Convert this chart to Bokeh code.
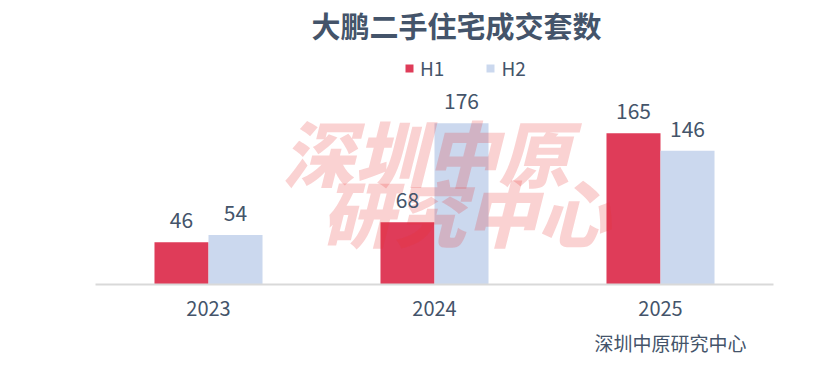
from bokeh.plotting import figure
from bokeh.models import Range1d, ColumnDataSource, Label, LabelSet, Legend, LegendItem, Title
from bokeh.transform import dodge
from bokeh.core.properties import value
from bokeh.embed import file_html
from bokeh.resources import INLINE

years = ["2023", "2024", "2025"]
h1 = [46, 68, 165]
h2 = [54, 176, 146]
series_names = ["H1", "H2"]
title_text = "大鹏二手住宅成交套数"
source_text = "深圳中原研究中心"
watermark_rows = ["深圳中原", "研究中心"]

FONT = "Noto Sans CJK SC"
TXT = "#44546A"
RED = "#DF3C59"
BLUE = "#CBD8EE"

src = ColumnDataSource(dict(year=years, h1=h1, h2=h2,
                            h1_txt=[str(v) for v in h1], h2_txt=[str(v) for v in h2]))

p = figure(x_range=years, y_range=Range1d(0, 310), width=822, height=365,
           output_backend="svg", toolbar_location=None, title=None,
           min_border_left=95, min_border_right=49, min_border_top=0, min_border_bottom=81)
p.outline_line_color = None
p.xgrid.visible = False
p.ygrid.visible = False
p.yaxis.visible = False
p.background_fill_color = "white"
p.border_fill_color = "white"

ax = p.xaxis[0]
ax.axis_line_color = "#D9D9D9"
ax.axis_line_width = 2
ax.major_tick_line_color = None
ax.minor_tick_line_color = None
ax.major_label_text_font = FONT
ax.major_label_text_font_size = "20px"
ax.major_label_text_color = TXT
ax.major_label_standoff = 10

bw = 0.239
r1 = p.vbar(x=dodge("year", -0.1195, range=p.x_range), top="h1", width=bw, source=src,
            fill_color=RED, line_color=None)
r2 = p.vbar(x=dodge("year", 0.1195, range=p.x_range), top="h2", width=bw, source=src,
            fill_color=BLUE, line_color=None)

# watermark
wm_pos = [(331, 134), (370, 74)]
for txt, (wx, wy) in zip(watermark_rows, wm_pos):
    p.add_layout(Label(x=wx, y=wy, x_units="screen", y_units="screen", text=txt,
                       text_font="'Noto Sans CJK SC Black', 'Noto Sans CJK SC'",
                       text_font_size="72px", text_font_style="bold italic",
                       text_color="#E83030", text_alpha=0.22,
                       text_align="center", text_baseline="middle"))

# data labels
for col, off in (("h1", -0.1195), ("h2", 0.1195)):
    p.add_layout(LabelSet(x=dodge("year", off, range=p.x_range), y=col, text=col + "_txt",
                          source=src, y_offset=14, text_align="center",
                          text_baseline="alphabetic", text_font=value(FONT),
                          text_font_size="21px", text_color=TXT))

# title
p.add_layout(Label(x=361, y=260, x_units="screen", y_units="screen", text=title_text,
                   text_font=FONT, text_font_size="29px", text_font_style="bold",
                   text_color=TXT, text_align="center", text_baseline="middle"))

# spacer + source
p.add_layout(Title(text=" ", text_font_size="6px", standoff=0), "below")
p.add_layout(Title(text=source_text, align="left", offset=499, text_font=FONT,
                   text_font_size="19px", text_font_style="normal", text_color=TXT,
                   standoff=0), "below")

legend = Legend(items=[LegendItem(label=series_names[0], renderers=[r1]),
                       LegendItem(label=series_names[1], renderers=[r2])],
                orientation="horizontal", location=(309, 203),
                glyph_width=10, glyph_height=10, label_height=20, label_standoff=6,
                spacing=41, padding=0, margin=0, border_line_color=None,
                background_fill_alpha=0, label_text_font=FONT,
                label_text_font_size="19px", label_text_color=TXT)
p.add_layout(legend, "center")

open("out.html", "w").write(file_html(p, INLINE))
